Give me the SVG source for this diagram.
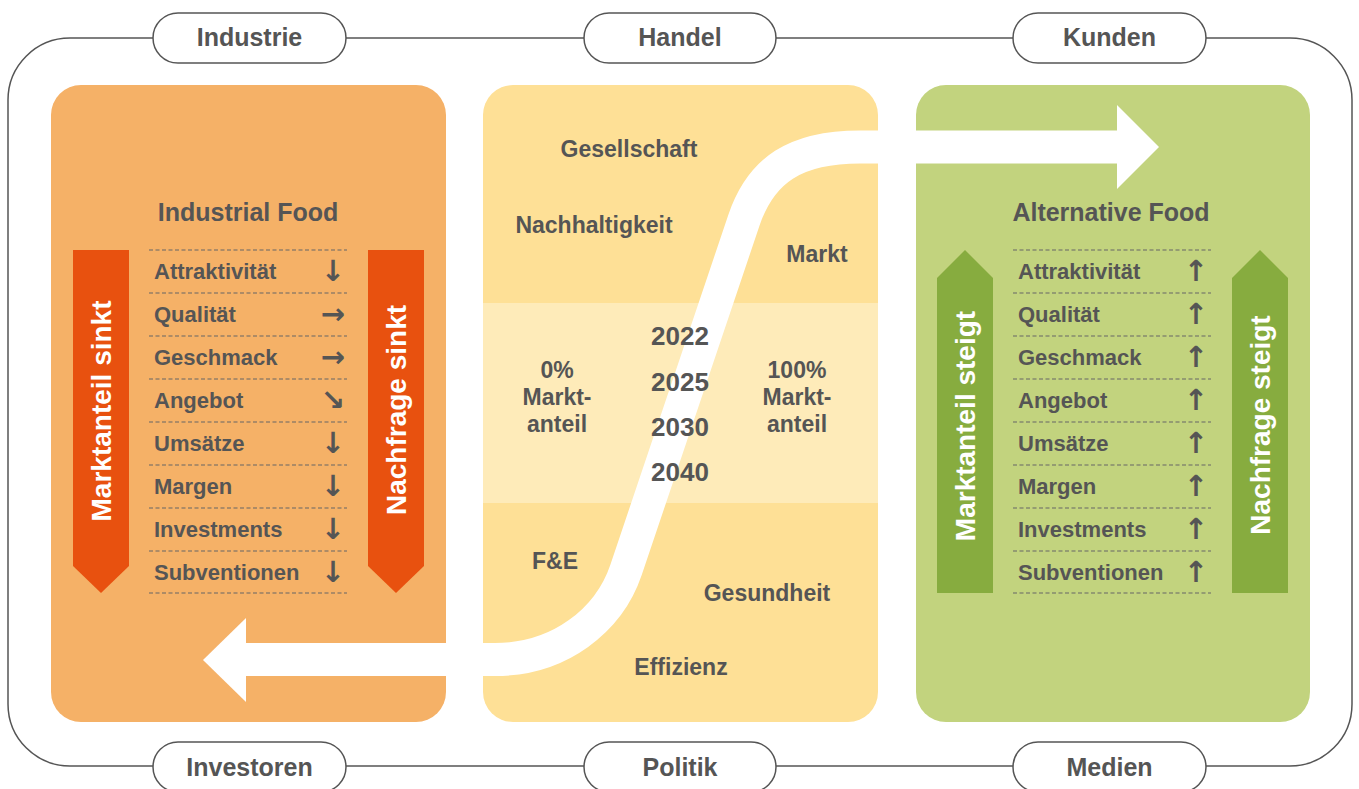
<svg xmlns="http://www.w3.org/2000/svg" width="1359" height="789" viewBox="0 0 1359 789">
<style>
.t{font-family:"Liberation Sans",Arial,sans-serif;font-weight:bold;fill:#555555}
.pill{fill:#ffffff;stroke:#555555;stroke-width:1.5}
.pl{font-size:25px;text-anchor:middle}
.title{font-size:25px;text-anchor:middle}
.item{font-size:22px}
.arr{font-family:"DejaVu Sans",sans-serif;font-weight:bold;font-size:29px;fill:#555555;text-anchor:middle}
.ctr{font-size:23px;text-anchor:middle}
.yr{font-size:26px;text-anchor:middle}
.bar{font-family:"Liberation Sans",Arial,sans-serif;font-weight:bold;font-size:28px;fill:#ffffff;text-anchor:middle}
.dash{stroke:#666666;stroke-width:1.2;stroke-dasharray:4 2.5;fill:none}
</style>
<rect width="1359" height="789" fill="#ffffff"/>
<g id="connectors">
  <rect x="8" y="38" width="1344" height="728" rx="62" ry="62" fill="none" stroke="#555555" stroke-width="1.5"/>
</g>
<g id="pill-industrie"><rect class="pill" x="153" y="13" width="193" height="50" rx="25"/><text class="t pl" x="249.5" y="46">Industrie</text></g>
<g id="pill-handel"><rect class="pill" x="584" y="13" width="192" height="50" rx="25"/><text class="t pl" x="680" y="46">Handel</text></g>
<g id="pill-kunden"><rect class="pill" x="1013" y="13" width="193" height="50" rx="25"/><text class="t pl" x="1109.5" y="46">Kunden</text></g>
<g id="pill-investoren"><rect class="pill" x="153" y="742" width="193" height="50" rx="25"/><text class="t pl" x="249.5" y="776">Investoren</text></g>
<g id="pill-politik"><rect class="pill" x="584" y="742" width="192" height="50" rx="25"/><text class="t pl" x="680" y="776">Politik</text></g>
<g id="pill-medien"><rect class="pill" x="1013" y="742" width="193" height="50" rx="25"/><text class="t pl" x="1109.5" y="776">Medien</text></g>

<g id="panel-industrial">
  <rect x="51" y="85" width="395" height="637" rx="30" fill="#F5B167"/>
</g>
<g id="panel-center">
  <rect x="483" y="85" width="395" height="637" rx="30" fill="#FEE096"/>
  <rect x="483" y="303" width="395" height="200" fill="#FEEBB9"/>
</g>
<g id="panel-alternative">
  <rect x="916" y="85" width="394" height="637" rx="30" fill="#C2D37E"/>
</g>

<g id="flow">
  <path d="M 240 659.5 H 495 C 560 659.5 609 620 626 570 L 744 220 C 761 170 795 147 860 147 H 1120" fill="none" stroke="#ffffff" stroke-width="33"/>
  <polygon points="246,618 203,660 246,702" fill="#ffffff"/>
  <polygon points="1117,105 1159,147 1117,189" fill="#ffffff"/>
</g>

<g id="industrial-food">
  <text class="t title" x="248" y="221">Industrial Food</text>
  <polygon points="73,250 129,250 129,566 101,593 73,566" fill="#E8510F"/>
  <polygon points="368,250 424,250 424,566 396,593 368,566" fill="#E8510F"/>
  <text class="bar" transform="translate(111,411) rotate(-90)">Marktanteil sinkt</text>
  <text class="bar" transform="translate(406,410) rotate(-90)">Nachfrage sinkt</text>
  <g>
    <line class="dash" x1="149" y1="250" x2="347" y2="250"/>
    <line class="dash" x1="149" y1="293" x2="347" y2="293"/>
    <line class="dash" x1="149" y1="336" x2="347" y2="336"/>
    <line class="dash" x1="149" y1="379" x2="347" y2="379"/>
    <line class="dash" x1="149" y1="422" x2="347" y2="422"/>
    <line class="dash" x1="149" y1="465" x2="347" y2="465"/>
    <line class="dash" x1="149" y1="508" x2="347" y2="508"/>
    <line class="dash" x1="149" y1="551" x2="347" y2="551"/>
    <line class="dash" x1="149" y1="593" x2="347" y2="593"/>
  </g>
  <text class="t item" x="154" y="279">Attraktivität</text>
  <text class="t item" x="154" y="322">Qualität</text>
  <text class="t item" x="154" y="365">Geschmack</text>
  <text class="t item" x="154" y="408">Angebot</text>
  <text class="t item" x="154" y="451">Umsätze</text>
  <text class="t item" x="154" y="494">Margen</text>
  <text class="t item" x="154" y="537">Investments</text>
  <text class="t item" x="154" y="580">Subventionen</text>
  <text class="arr" x="333" y="281">↓</text>
  <text class="arr" x="333" y="324">→</text>
  <text class="arr" x="333" y="367">→</text>
  <text class="arr" x="333" y="410">↘</text>
  <text class="arr" x="333" y="453">↓</text>
  <text class="arr" x="333" y="496">↓</text>
  <text class="arr" x="333" y="539">↓</text>
  <text class="arr" x="333" y="582">↓</text>
</g>

<g id="center-labels">
  <text class="t ctr" x="629" y="157">Gesellschaft</text>
  <text class="t ctr" x="594" y="233">Nachhaltigkeit</text>
  <text class="t ctr" x="817" y="262">Markt</text>
  <text class="t ctr" x="557" y="378">0%</text>
  <text class="t ctr" x="557" y="405">Markt-</text>
  <text class="t ctr" x="557" y="432">anteil</text>
  <text class="t ctr" x="797" y="378">100%</text>
  <text class="t ctr" x="797" y="405">Markt-</text>
  <text class="t ctr" x="797" y="432">anteil</text>
  <text class="t yr" x="680" y="345">2022</text>
  <text class="t yr" x="680" y="391">2025</text>
  <text class="t yr" x="680" y="436">2030</text>
  <text class="t yr" x="680" y="481">2040</text>
  <text class="t ctr" x="555" y="569">F&amp;E</text>
  <text class="t ctr" x="767" y="601">Gesundheit</text>
  <text class="t ctr" x="681" y="675">Effizienz</text>
</g>

<g id="alternative-food">
  <text class="t title" x="1111" y="221">Alternative Food</text>
  <polygon points="965,250 993,278 993,593 937,593 937,278" fill="#87AC3F"/>
  <polygon points="1260,250 1288,278 1288,593 1232,593 1232,278" fill="#87AC3F"/>
  <text class="bar" transform="translate(975,426) rotate(-90)">Marktanteil steigt</text>
  <text class="bar" transform="translate(1270,425) rotate(-90)">Nachfrage steigt</text>
  <g>
    <line class="dash" x1="1013" y1="250" x2="1211" y2="250"/>
    <line class="dash" x1="1013" y1="293" x2="1211" y2="293"/>
    <line class="dash" x1="1013" y1="336" x2="1211" y2="336"/>
    <line class="dash" x1="1013" y1="379" x2="1211" y2="379"/>
    <line class="dash" x1="1013" y1="422" x2="1211" y2="422"/>
    <line class="dash" x1="1013" y1="465" x2="1211" y2="465"/>
    <line class="dash" x1="1013" y1="508" x2="1211" y2="508"/>
    <line class="dash" x1="1013" y1="551" x2="1211" y2="551"/>
    <line class="dash" x1="1013" y1="593" x2="1211" y2="593"/>
  </g>
  <text class="t item" x="1018" y="279">Attraktivität</text>
  <text class="t item" x="1018" y="322">Qualität</text>
  <text class="t item" x="1018" y="365">Geschmack</text>
  <text class="t item" x="1018" y="408">Angebot</text>
  <text class="t item" x="1018" y="451">Umsätze</text>
  <text class="t item" x="1018" y="494">Margen</text>
  <text class="t item" x="1018" y="537">Investments</text>
  <text class="t item" x="1018" y="580">Subventionen</text>
  <text class="arr" x="1196" y="281">↑</text>
  <text class="arr" x="1196" y="324">↑</text>
  <text class="arr" x="1196" y="367">↑</text>
  <text class="arr" x="1196" y="410">↑</text>
  <text class="arr" x="1196" y="453">↑</text>
  <text class="arr" x="1196" y="496">↑</text>
  <text class="arr" x="1196" y="539">↑</text>
  <text class="arr" x="1196" y="582">↑</text>
</g>
</svg>
